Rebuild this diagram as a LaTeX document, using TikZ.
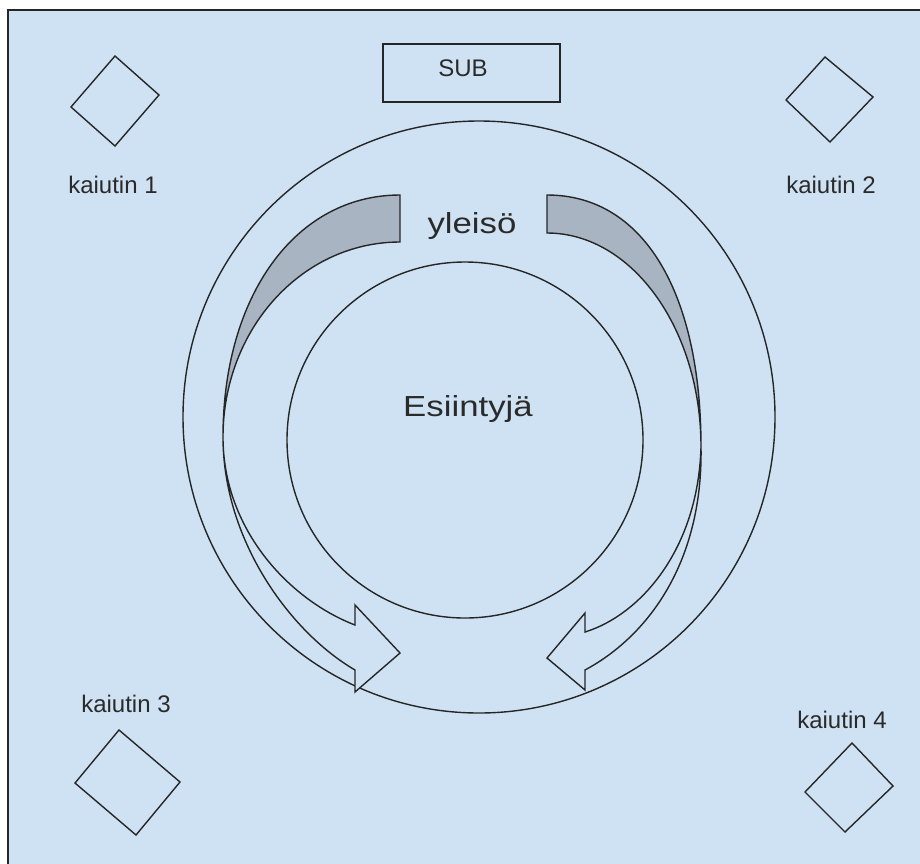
\documentclass[tikz,border=0pt]{standalone}
\usepackage{fontspec}
\setmainfont{Liberation Sans}
\definecolor{bg}{HTML}{CFE2F3}
\definecolor{ln}{HTML}{262626}
\definecolor{gr}{HTML}{A8B4C2}
\definecolor{tx}{HTML}{2A2A2A}
\begin{document}
\begin{tikzpicture}[x=1pt,y=-1pt,
  outl/.style={draw=ln,line width=1.4pt,line join=miter},
  lbl/.style={text=tx,font=\fontsize{24}{28}\selectfont,inner sep=0pt,anchor=base},
  big/.style={text=tx,font=\fontsize{29}{34}\selectfont,inner sep=0pt,anchor=base,xscale=1.2}]
\useasboundingbox (0,0) rectangle (920,863);
\begin{scope}
\clip (0,0) rectangle (920,863);
\draw[fill=bg,draw=ln,line width=1.6pt] (8,10) rectangle (940,880);
\end{scope}

% circles
\draw[outl] (479,417) circle[radius=296pt];
\draw[outl] (465,440) circle[radius=178pt];

% SUB box
\draw[outl] (383,44) rectangle (560,102);
\node[lbl] (sub) at (463,76) {SUB};

% speakers
\draw[outl] (115,56) -- (159,95) -- (115,146) -- (71,107) -- cycle;
\draw[outl] (825,57) -- (873,97) -- (830,142) -- (786,100) -- cycle;
\draw[outl] (119,730) -- (180,782) -- (136,835) -- (75,783) -- cycle;
\draw[outl] (852,743) -- (893,786) -- (845,832) -- (805,792) -- cycle;
\node[lbl] (k1) at (113,193) {kaiutin 1};
\node[lbl] (k2) at (831,193) {kaiutin 2};
\node[lbl] (k3) at (126,712) {kaiutin 3};
\node[lbl] (k4) at (842,728) {kaiutin 4};

% left curved arrow: back face
\draw[outl,fill=gr] (223,437) .. controls (223,295) and (296,195) .. (400,195)
  -- (400,242) .. controls (302,242) and (223,329) .. cycle;
% left curved arrow: front face
\draw[outl,fill=bg] (223,437) .. controls (223,540) and (290,632) .. (355,670)
  -- (355,692) -- (400,653) -- (355,605) -- (355,625)
  .. controls (290,600) and (223,530) .. cycle;

% right curved arrow: back face
\draw[outl,fill=gr] (701,447) .. controls (701,295) and (645,195) .. (547,195)
  -- (547,233) .. controls (632,233) and (701,329) .. cycle;
% right curved arrow: front face
\draw[outl,fill=bg] (701,447) .. controls (703,560) and (650,635) .. (585,670)
  -- (585,690) -- (547,658) -- (585,613) -- (585,632)
  .. controls (640,615) and (698,550) .. cycle;

% texts
\node[big] (yleiso) at (472,233) {yleisö};
\node[big] (esi) at (468,416) {Esiintyjä};
\end{tikzpicture}
\end{document}
